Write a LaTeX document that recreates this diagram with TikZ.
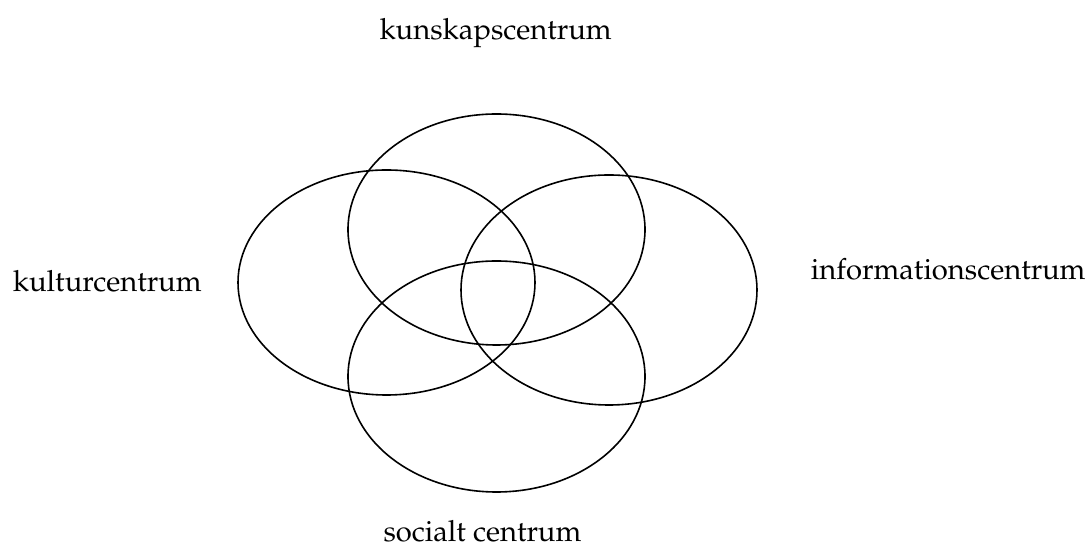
\documentclass[tikz,border=0pt]{standalone}
\usepackage[T1]{fontenc}
\renewcommand{\rmdefault}{ppl}
\usetikzlibrary{shapes.geometric}
\begin{document}
\begin{tikzpicture}[x=1pt,y=1pt,
  ring/.style={draw=black,line width=1.6pt,ellipse,inner sep=0pt,fill=none},
  lbl/.style={inner sep=0pt,anchor=base west,font=\fontsize{29.2}{35}\selectfont}]
\useasboundingbox (0,0) rectangle (1088,545);
\node[ring,minimum width=297pt,minimum height=231pt] (kun) at (496.5,315.5) {};
\node[ring,minimum width=297pt,minimum height=225pt] (kul) at (386.5,262.5) {};
\node[ring,minimum width=296pt,minimum height=230pt] (inf) at (609,255) {};
\node[ring,minimum width=297pt,minimum height=231pt] (soc) at (496.5,168.5) {};
\node[lbl] (tkun) at (379.3,505.7) {kunskapscentrum};
\node[lbl] (tkul) at (12.7,253.3) {kulturcentrum};
\node[lbl] (tinf) at (810.7,265.7) {informationscentrum};
\node[lbl] (tsoc) at (383.3,3.2) {socialt centrum};
\end{tikzpicture}
\end{document}
